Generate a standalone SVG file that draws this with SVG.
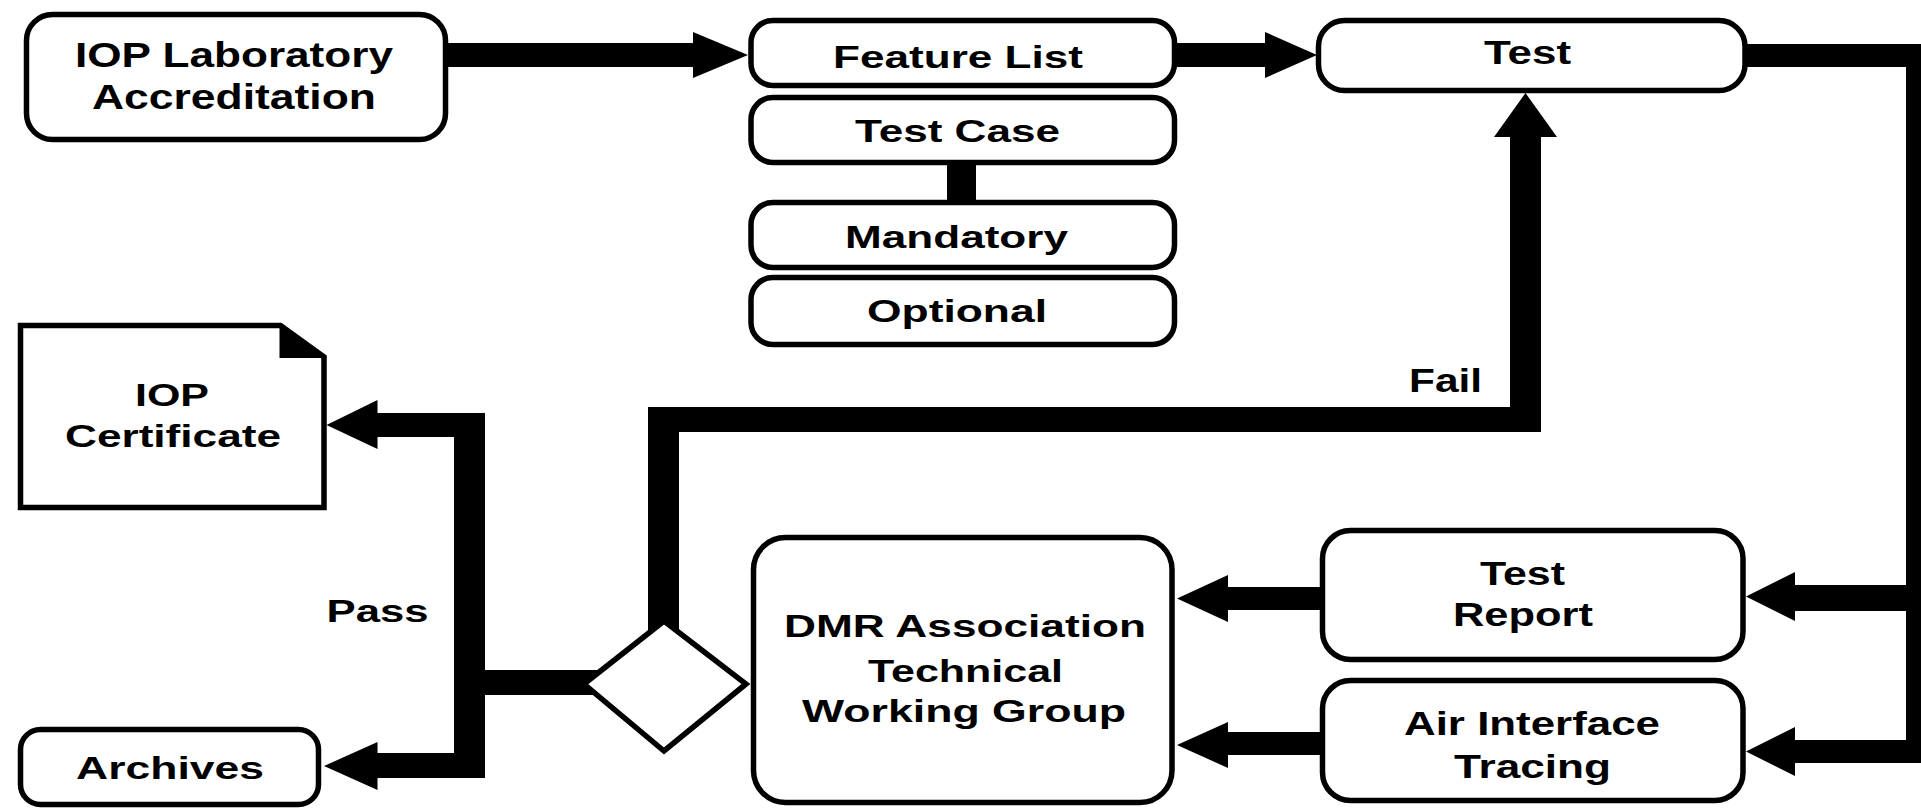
<svg xmlns="http://www.w3.org/2000/svg" width="1921" height="808" viewBox="0 0 1921 808">
<style>
.box{fill:#fff;stroke:#000;stroke-width:5.5}
.conn{fill:#000;stroke:none}
text{font-family:"Liberation Sans",Arial,sans-serif;font-weight:bold;font-size:32px;text-anchor:middle;fill:#000}
.big{font-size:33px}
.lab{font-size:35px}
</style>
<rect width="1921" height="808" fill="#fff"/>
<g id="connectors">
<path class="conn" d="M448,43 H693 V32 L748,55 L693,78 V67 H448 Z"/>
<path class="conn" d="M1177,43 H1265 V32 L1317,55 L1265,78 V67 H1177 Z"/>
<path class="conn" d="M1747,44 H1937 V763 H1795 V776 L1746,751.5 L1795,727 V740 H1906 V611 H1795 V621 L1746,596.5 L1795,572 V585 H1906 V67 H1747 Z"/>
<path class="conn" d="M1322,587 H1228 V575 L1177,598.5 L1228,622 V610 H1322 Z"/>
<path class="conn" d="M1322,732 H1228 V722 L1177,745 L1228,768 V755 H1322 Z"/>
<path class="conn" d="M648,650 V407 H1510 V137 H1494 L1525.5,93 L1557,137 H1541 V432 H679 V650 Z"/>
<path class="conn" d="M600,670 H485 V413 H377.5 V400 L326.5,425 L377.5,449 V437 H454 V753 H377.5 V742 L324,766 L377.5,790 V778 H485 V695 H600 Z"/>
<rect class="conn" x="947" y="162" width="29" height="41"/>
</g>
<g id="iop-lab">
<rect class="box" x="26.5" y="14.5" width="419" height="125" rx="26"/>
<text class="lab" x="234" y="67" textLength="318" lengthAdjust="spacingAndGlyphs">IOP Laboratory</text>
<text class="lab" x="234" y="109" textLength="284" lengthAdjust="spacingAndGlyphs">Accreditation</text>
</g>
<g id="feature-list">
<rect class="box" x="751" y="20.5" width="423.5" height="65" rx="22"/>
<text x="958" y="68" textLength="250" lengthAdjust="spacingAndGlyphs">Feature List</text>
</g>
<g id="test-case">
<rect class="box" x="751" y="97.5" width="423.5" height="65" rx="22"/>
<text x="957.5" y="142" textLength="205" lengthAdjust="spacingAndGlyphs">Test Case</text>
</g>
<g id="mandatory">
<rect class="box" x="751" y="202.5" width="423.5" height="65" rx="22"/>
<text x="956.5" y="248" textLength="223" lengthAdjust="spacingAndGlyphs">Mandatory</text>
</g>
<g id="optional">
<rect class="box" x="751" y="277.5" width="423.5" height="67" rx="22"/>
<text x="957" y="322" textLength="180" lengthAdjust="spacingAndGlyphs">Optional</text>
</g>
<g id="test">
<rect class="box" x="1318.5" y="20.5" width="426.5" height="70" rx="26"/>
<text class="big" x="1527.5" y="64" textLength="87" lengthAdjust="spacingAndGlyphs">Test</text>
</g>
<g id="fail-label">
<text class="big" x="1445.5" y="392" textLength="73" lengthAdjust="spacingAndGlyphs">Fail</text>
</g>
<g id="test-report">
<rect class="box" x="1322.5" y="530.5" width="420.5" height="129" rx="28"/>
<text class="big" x="1522.5" y="585" textLength="85" lengthAdjust="spacingAndGlyphs">Test</text>
<text class="big" x="1523" y="626" textLength="140" lengthAdjust="spacingAndGlyphs">Report</text>
</g>
<g id="air-interface">
<rect class="box" x="1322.5" y="680.5" width="420.5" height="120" rx="28"/>
<text class="big" x="1532" y="734.5" textLength="256" lengthAdjust="spacingAndGlyphs">Air Interface</text>
<text class="big" x="1532.5" y="778" textLength="157" lengthAdjust="spacingAndGlyphs">Tracing</text>
</g>
<g id="dmr">
<rect class="box" x="753.5" y="537.5" width="418.5" height="265" rx="32"/>
<text x="965" y="637" textLength="362" lengthAdjust="spacingAndGlyphs">DMR Association</text>
<text x="965.5" y="682" textLength="195" lengthAdjust="spacingAndGlyphs">Technical</text>
<text x="964" y="722" textLength="324" lengthAdjust="spacingAndGlyphs">Working Group</text>
</g>
<g id="decision">
<polygon class="box" points="584,684 664,621 746,684 664,751"/>
</g>
<g id="pass-label">
<text x="377.5" y="622" textLength="102" lengthAdjust="spacingAndGlyphs">Pass</text>
</g>
<g id="iop-certificate">
<path class="box" d="M20.5,325.5 H280.5 L324,357 V507.5 H20.5 Z"/>
<path d="M280.5,325.5 V357 H324 Z" fill="#000" stroke="#000" stroke-width="2"/>
<text x="172" y="406" textLength="74" lengthAdjust="spacingAndGlyphs">IOP</text>
<text x="173" y="447" textLength="216" lengthAdjust="spacingAndGlyphs">Certificate</text>
</g>
<g id="archives">
<rect class="box" x="20.5" y="729.5" width="298" height="75" rx="20"/>
<text x="170" y="779" textLength="188" lengthAdjust="spacingAndGlyphs">Archives</text>
</g>
</svg>
